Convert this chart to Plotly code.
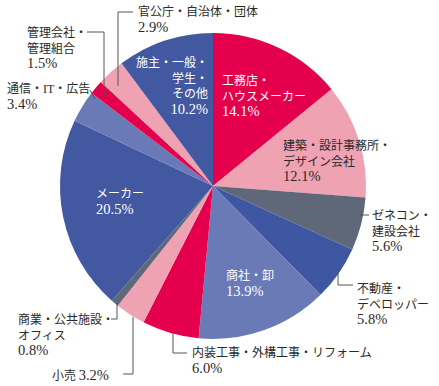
import plotly.graph_objects as go

categories = ["工務店・ハウスメーカー", "建築・設計事務所・デザイン会社", "ゼネコン・建設会社",
              "不動産・デベロッパー", "商社・卸", "内装工事・外構工事・リフォーム", "小売",
              "商業・公共施設・オフィス", "メーカー", "通信・IT・広告", "管理会社・管理組合",
              "官公庁・自治体・団体", "施主・一般・学生・その他"]
values = [14.1, 12.1, 5.6, 5.8, 13.9, 6.0, 3.2, 0.8, 20.5, 3.4, 1.5, 2.9, 10.2]
colors = ["#E4004C", "#EFA2B2", "#5E6878", "#3F57A2", "#6A7AB6", "#E4004C", "#EFA2B2",
          "#5E6878", "#4258A0", "#6A7AB6", "#E4004C", "#EFA2B2", "#4258A0"]

W, H = 439, 386
cx, cy, r = 213, 186, 153

fig = go.Figure(go.Pie(
    labels=categories, values=values, sort=False, direction="clockwise", rotation=0,
    marker=dict(colors=colors, line=dict(width=0)), textinfo="none", hoverinfo="label+value",
    showlegend=False,
    domain=dict(x=[(cx - r) / W, (cx + r) / W], y=[(H - cy - r) / H, (H - cy + r) / H]),
))

FONT = "Noto Sans CJK JP"
NUMFONT = "Liberation Serif"
DARK = "#2a2a2a"

def pct(v):
    return f"<span style='font-family:{NUMFONT};font-size:14.5px'>{v:.1f}%</span>"

def ann(x, y, text, color=DARK, align="left", xanchor="left"):
    fig.add_annotation(x=x / W, y=1 - (y - 2) / H, xref="paper", yref="paper", text=text,
                       showarrow=False, xanchor=xanchor, yanchor="top", align=align,
                       font=dict(family=FONT, size=12, color=color))

def seg(x0, y0, x1, y1):
    fig.add_shape(type="line", xref="paper", yref="paper", x0=x0 / W, y0=1 - y0 / H,
                  x1=x1 / W, y1=1 - y1 / H, line=dict(color="#555555", width=1))

ann(136, 2, "官公庁・自治体・団体<br>" + pct(values[11]))
ann(25, 23, "管理会社・<br>管理組合<br>" + pct(values[10]))
ann(5, 79, "通信・<span style='font-family:Liberation Serif'>IT</span>・広告<br>" + pct(values[9]))
ann(210, 53, "施主・一般・<br>学生・<br>その他<br>" + pct(values[12]), color="white", align="right", xanchor="right")
ann(220, 71, "工務店・<br>ハウスメーカー<br>" + pct(values[0]), color="white")
ann(281, 136, "建築・設計事務所・<br>デザイン会社<br>" + pct(values[1]))
ann(370, 206, "ゼネコン・<br>建設会社<br>" + pct(values[2]))
ann(355, 279, "不動産・<br>デベロッパー<br>" + pct(values[3]))
ann(224, 266, "商社・卸<br>" + pct(values[4]), color="white")
ann(94, 184, "メーカー<br>" + pct(values[8]), color="white")
ann(190, 343, "内装工事・外構工事・リフォーム<br>" + pct(values[5]))
ann(16, 310, "商業・公共施設・<br>オフィス<br>" + pct(values[7]))
ann(50, 366, "小売 " + pct(values[6]))

seg(118, 12, 133, 12); seg(118, 12, 118, 86)
seg(87, 32, 104, 32); seg(104, 32, 104, 95)
seg(90, 90, 95, 99)
seg(360, 215, 369, 215)
seg(338, 270, 338, 285); seg(338, 285, 353, 285)
seg(173, 333, 173, 353); seg(173, 353, 187, 353)
seg(111, 319, 117, 319); seg(117, 303, 117, 319)
seg(123, 374, 133, 374); seg(133, 317, 133, 374)

fig.update_layout(width=W, height=H, margin=dict(l=0, r=0, t=0, b=0),
                  paper_bgcolor="white", plot_bgcolor="white")
fig.write_html("out.html", config={"displayModeBar": False},
               post_script="document.body.style.margin='0';")
